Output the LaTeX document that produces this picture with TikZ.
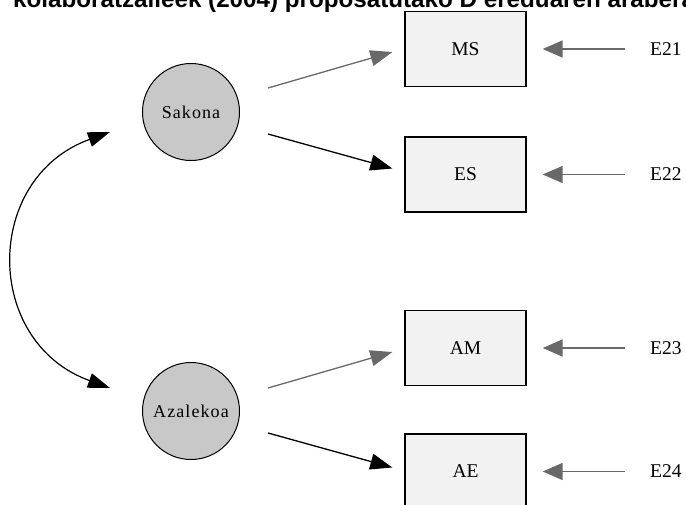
\documentclass[tikz,border=0pt]{standalone}
\usepackage{fontspec}
\setmainfont{Liberation Serif}
\newfontfamily\titlefont{Liberation Sans}
\newfontfamily\latentfont[LetterSpace=6]{Liberation Serif}
\usetikzlibrary{arrows.meta}
\definecolor{latentgray}{RGB}{200,200,200}
\definecolor{boxgray}{RGB}{242,242,242}
\definecolor{arrowgray}{RGB}{105,105,105}
\begin{document}
\begin{tikzpicture}[x=1pt,y=-1pt,
  latent/.style={circle, draw=black, line width=1pt, fill=latentgray, minimum size=97pt, inner sep=0pt, font=\latentfont\fontsize{18}{18}\selectfont},
  obs/.style={rectangle, draw=black, line width=1.3pt, fill=boxgray, minimum width=121pt, minimum height=75pt, inner sep=0pt, font=\fontsize{19.5}{19.5}\selectfont},
  errlab/.style={anchor=west, inner sep=0pt, font=\fontsize{19.5}{19.5}\selectfont},
  loadg/.style={draw=arrowgray, line width=1.3pt, -{Triangle[length=22pt,width=16pt]}},
  loadb/.style={draw=black, line width=1.3pt, -{Triangle[length=22pt,width=16pt]}},
  errarrow/.style={draw=arrowgray, line width=1.5pt, -{Triangle[length=20pt,width=17pt]}},
  cov/.style={draw=black, line width=1.2pt, {Triangle[length=22pt,width=15pt]}-{Triangle[length=22pt,width=15pt]}},
  titlestyle/.style={anchor=base west, inner sep=0pt, font=\titlefont\bfseries\fontsize{24.2}{24.2}\selectfont}
]
\useasboundingbox (0,0) rectangle (686,504);
\clip (0,0) rectangle (686,504);
\node[titlestyle] (title) at (13,7) {kolaboratzaileek (2004) proposatutako D ereduaren arabera};

\node[latent] (Sakona) at (191,112) {Sakona};
\node[latent] (Azalekoa) at (191,411) {Azalekoa};

\node[obs] (MS) at (465.5,49) {MS};
\node[obs] (ES) at (465.5,174.5) {ES};
\node[obs] (AM) at (465.5,348) {AM};
\node[obs] (AE) at (465.5,471.5) {AE};

\node[errlab] (E21) at (650,49) {E21};
\node[errlab] (E22) at (650,174.5) {E22};
\node[errlab] (E23) at (650,348) {E23};
\node[errlab] (E24) at (650,471.5) {E24};

\draw[loadg] ([xshift=28pt,yshift=24pt]Sakona.east) -- ([xshift=-12pt,yshift=-3pt]MS.west);
\draw[loadb] ([xshift=28pt,yshift=-22pt]Sakona.east) -- ([xshift=-12pt,yshift=6pt]ES.west);
\draw[loadg] ([xshift=28pt,yshift=23pt]Azalekoa.east) -- ([xshift=-12pt,yshift=-4pt]AM.west);
\draw[loadb] ([xshift=28pt,yshift=-22pt]Azalekoa.east) -- ([xshift=-12pt,yshift=4pt]AE.west);

\draw[errarrow] ([xshift=-25pt]E21.west) -- ([xshift=16pt]MS.east);
\draw[errarrow] ([xshift=-25pt]E22.west) -- ([xshift=16pt]ES.east);
\draw[errarrow] ([xshift=-25pt]E23.west) -- ([xshift=16pt]AM.east);
\draw[errarrow] ([xshift=-25pt]E24.west) -- ([xshift=16pt]AE.east);

\draw[cov] ([xshift=-32pt,yshift=-20pt]Sakona.west) .. controls (-17,178) and (-17,342) .. ([xshift=-32pt,yshift=23pt]Azalekoa.west);
\end{tikzpicture}
\end{document}
